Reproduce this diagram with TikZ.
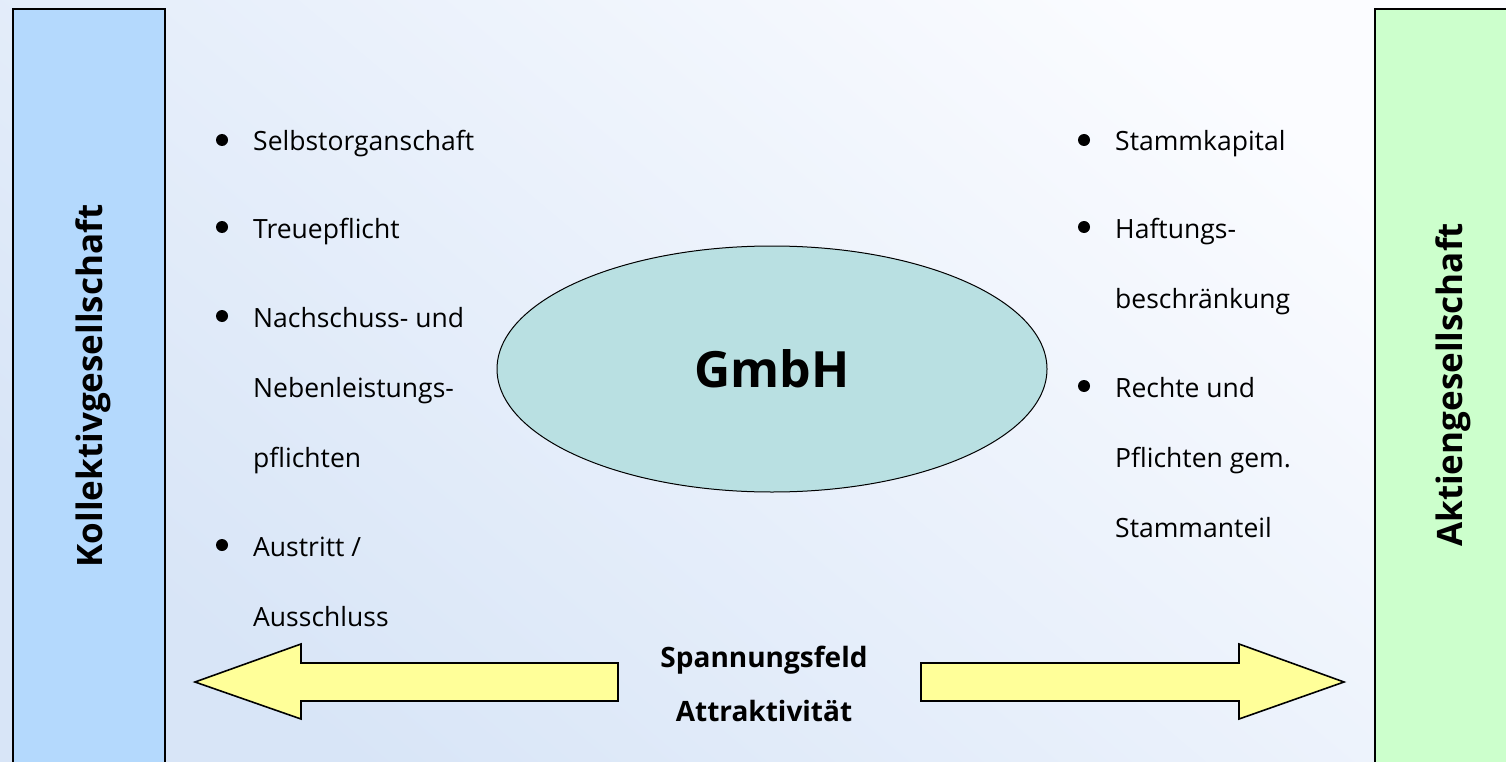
\documentclass[tikz,border=0pt]{standalone}
\usepackage{fontspec}
\setmainfont{Open Sans}
\usepackage{tikz}
\usetikzlibrary{positioning,shapes.geometric}

\definecolor{bgdark}{RGB}{216,229,247}
\definecolor{bglight}{RGB}{251,252,255}
\definecolor{kgblau}{RGB}{180,217,253}
\definecolor{aggruen}{RGB}{204,255,204}
\definecolor{gmbhtuerkis}{RGB}{185,224,226}
\definecolor{pfeilgelb}{RGB}{255,255,153}

\tikzset{
  saeule/.style={draw=black, line width=2pt},
  pfeil/.style={draw=black, line width=1.6pt, fill=pfeilgelb, line join=miter},
  punkt/.style={font=\fontsize{26.5}{26.5}\selectfont, anchor=base west, inner sep=0pt},
  titel/.style={font=\bfseries\fontsize{35}{35}\selectfont, rotate=90, anchor=base, inner sep=0pt},
  mitte/.style={font=\bfseries\fontsize{28}{28}\selectfont, anchor=base, inner sep=0pt},
}

\begin{document}
\begin{tikzpicture}[x=1pt, y=-1pt]
    \useasboundingbox (0,0) rectangle (1506,762);
    \clip (0,0) rectangle (1506,762);

    % hintergrund
    \shade [bottom color=bgdark, top color=bglight, shading angle=-40] (0,0) rectangle (1506,762);

    % saeulen links und rechts
    \draw [saeule, fill=kgblau] (13,9) rectangle (165,780);
    \draw [saeule, fill=aggruen] (1375,9) rectangle (1530,780);
    \node [titel] (kg) at (102,386) {Kollektivgesellschaft};
    \node [titel] (ag) at (1462,385) {Aktiengesellschaft};

    % GmbH
    \node [draw, line width=1pt, fill=gmbhtuerkis, ellipse, minimum width=550pt, minimum height=246pt,
           font=\bfseries\fontsize{50}{50}\selectfont] (gmbh) at (772,369) {GmbH};

    % links
    \foreach \y in {140,227,316,545}
        \fill (222,\y) circle (6);
    \node [punkt] (l1) at (253,151) {Selbstorganschaft};
    \node [punkt] (l2) at (253,238) {Treuepflicht};
    \node [punkt] (l3) at (253,327) {Nachschuss- und};
    \node [punkt] (l4) at (253,397) {Nebenleistungs-};
    \node [punkt] (l5) at (253,467) {pflichten};
    \node [punkt] (l6) at (253,556) {Austritt /};
    \node [punkt] (l7) at (253,626) {Ausschluss};

    % rechts
    \foreach \y in {140,227,386}
        \fill (1084,\y) circle (6);
    \node [punkt] (r1) at (1115,151) {Stammkapital};
    \node [punkt] (r2) at (1115,238) {Haftungs-};
    \node [punkt] (r3) at (1115,308) {beschränkung};
    \node [punkt] (r4) at (1115,397) {Rechte und};
    \node [punkt] (r5) at (1115,467) {Pflichten gem.};
    \node [punkt] (r6) at (1115,537) {Stammanteil};

    % pfeile
    \draw [pfeil] (195,682)--(301,644)--(301,663)--(618,663)--(618,701)--(301,701)--(301,719)--cycle;
    \draw [pfeil] (1344,682)--(1239,644)--(1239,663)--(921,663)--(921,701)--(1239,701)--(1239,719)--cycle;
    \node [mitte] (sp) at (764,667) {Spannungsfeld};
    \node [mitte] (at) at (764,721) {Attraktivität};

\end{tikzpicture}
\end{document}
